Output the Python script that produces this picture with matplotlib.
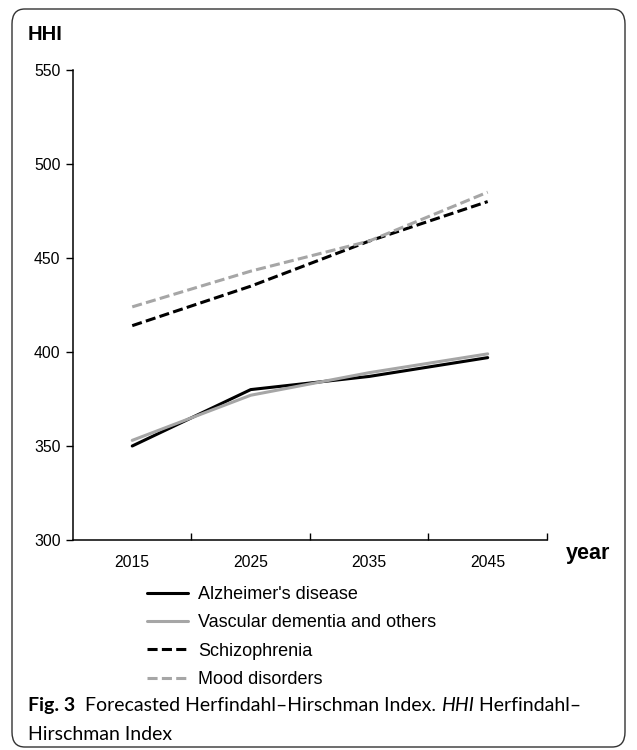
import matplotlib.pyplot as plt
from matplotlib.patches import FancyBboxPatch

years = ['2015', '2025', '2035', '2045']
alzheimer = [350, 380, 387, 397]
vascular = [353, 377, 389, 399]
schizophrenia = [414, 435, 459, 480]
mood = [424, 443, 459, 485]
y_ticks = [300, 350, 400, 450, 500, 550]

BLACK = '#000000'
GRAY = '#a6a6a6'
LW = 2.2

plt.rcParams['font.family'] = ['Liberation Sans', 'DejaVu Sans']

fig = plt.figure(figsize=(6.37, 7.5), dpi=100)
ax = fig.add_axes([0.1146, 0.28, 0.744, 0.6267])

x = range(len(years))
ax.plot(x, alzheimer, color=BLACK, lw=LW, solid_capstyle='round', label="Alzheimer's disease")
ax.plot(x, vascular, color=GRAY, lw=LW, solid_capstyle='round', label='Vascular dementia and others')
ax.plot(x, schizophrenia, color=BLACK, lw=LW, dashes=(3.3, 1.4), label='Schizophrenia')
ax.plot(x, mood, color=GRAY, lw=LW, dashes=(3.3, 1.4), label='Mood disorders')

ax.set_xlim(-0.5, 3.5)
ax.set_ylim(300, 550)
ax.set_yticks(y_ticks)
ax.set_xticks([0.5, 1.5, 2.5, 3.5])
ax.set_xticklabels([])
ax.set_xticks(list(x), minor=True)
ax.set_xticklabels(years, minor=True)
ax.tick_params(axis='x', which='minor', length=0, pad=11, labelsize=11.3)
ax.tick_params(axis='x', which='major', direction='in', length=5, width=1)
ax.tick_params(axis='y', direction='out', length=5, width=1, labelsize=11.3, pad=4)
for s in ['top', 'right']:
    ax.spines[s].set_visible(False)
for s in ['left', 'bottom']:
    ax.spines[s].set_linewidth(1.1)

fig.text(28/637, 1-35/750, 'HHI', fontsize=14.5, fontweight='bold', va='center', ha='left')
fig.text(566/637, 1-554/750, 'year', fontsize=15.5, fontweight='bold', va='center', ha='left')

leg = fig.legend(loc='upper left', bbox_to_anchor=(147/637, 1-586/750), frameon=False,
                 borderpad=0, borderaxespad=0,
                 fontsize=13, handlelength=2.27, handletextpad=0.55, labelspacing=0.63)

# rounded frame around the whole figure
frame = FancyBboxPatch((12/637, 3/750), 613/637, 738/750, transform=fig.transFigure,
                       boxstyle='round,pad=0,rounding_size=0.02', fill=False,
                       edgecolor='#333333', lw=1.0)
fig.patches.append(frame)

CAPFONT = ['Lato', 'DejaVu Sans']
CAPSIZE = 14
t1 = fig.text(28/637, 1-711/750, 'Fig. 3', fontweight='bold', fontsize=CAPSIZE,
              family=CAPFONT, va='baseline')
b = ax.annotate('  Forecasted Herfindahl\u2013Hirschman Index. ', xy=(1, 0), xycoords=t1,
                va='bottom', fontsize=CAPSIZE, family=CAPFONT, annotation_clip=False)
c = ax.annotate('HHI', xy=(1, 0), xycoords=b, va='bottom', fontsize=CAPSIZE,
                family=CAPFONT, style='italic', annotation_clip=False)
ax.annotate(' Herfindahl\u2013', xy=(1, 0), xycoords=c, va='bottom', fontsize=CAPSIZE,
            family=CAPFONT, annotation_clip=False)
fig.text(28/637, 1-740/750, 'Hirschman Index', fontsize=CAPSIZE, family=CAPFONT, va='baseline')

plt.savefig('out.png', dpi=100)
